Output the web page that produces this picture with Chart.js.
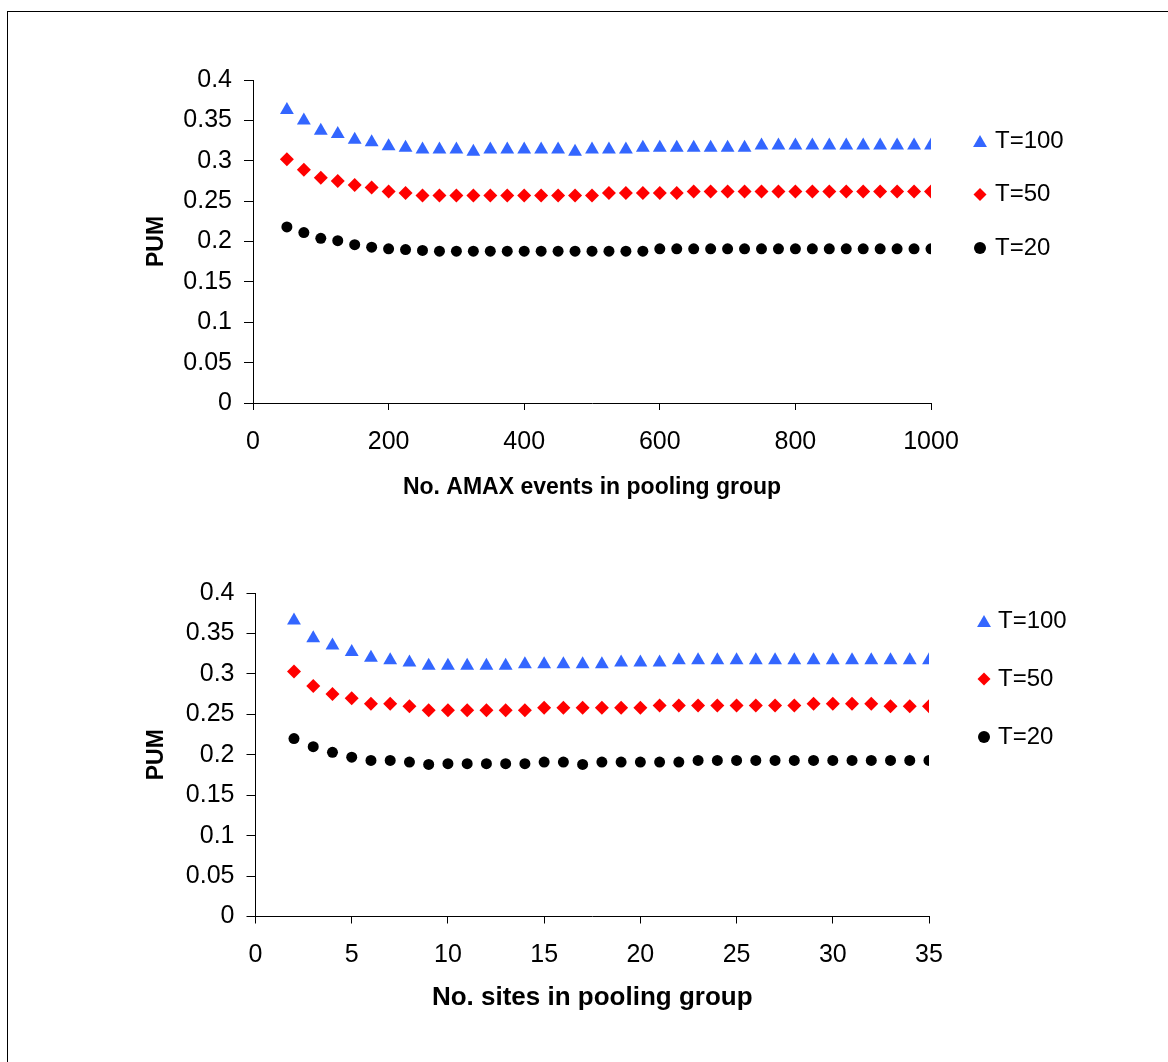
<!DOCTYPE html>
<html>
<head>
<meta charset="utf-8">
<title>PUM against pooling group size</title>
<script src="https://cdn.jsdelivr.net/npm/chart.js@4.4.1/dist/chart.umd.min.js"></script>
<style>
  body { margin: 0; background: #fff; overflow: hidden; }
  .frame { position: absolute; left: 7px; top: 11px; width: 1170px; height: 1060px; border-top: 1px solid #000; border-left: 1px solid #000; }
  canvas { position: absolute; left: 0; }
  #topChart { top: 0; }
  #bottomChart { top: 530px; }
</style>
</head>
<body>
<div class="frame"></div>
<canvas id="topChart" width="1168" height="530"></canvas>
<canvas id="bottomChart" width="1168" height="532"></canvas>
<script>
  // x values: size of the pooling group
  const amaxEvents = [50, 75, 100, 125, 150, 175, 200, 225, 250, 275, 300, 325, 350, 375, 400, 425, 450, 475, 500, 525,
    550, 575, 600, 625, 650, 675, 700, 725, 750, 775, 800, 825, 850, 875, 900, 925, 950, 975, 1000];
  const sitesInGroup = [2, 3, 4, 5, 6, 7, 8, 9, 10, 11, 12, 13, 14, 15, 16, 17, 18, 19, 20, 21,
    22, 23, 24, 25, 26, 27, 28, 29, 30, 31, 32, 33, 34, 35];

  // PUM by number of AMAX events
  const amaxT100 = [0.363, 0.350, 0.337, 0.333, 0.326, 0.323, 0.318, 0.316, 0.314, 0.314,
    0.314, 0.311, 0.314, 0.314, 0.314, 0.314, 0.314, 0.311, 0.314, 0.314,
    0.314, 0.316, 0.316, 0.316, 0.316, 0.316, 0.316, 0.316, 0.319, 0.319,
    0.319, 0.319, 0.319, 0.319, 0.319, 0.319, 0.319, 0.319, 0.319];
  const amaxT50 = [0.302, 0.289, 0.279, 0.275, 0.270, 0.267, 0.262, 0.260, 0.257, 0.257,
    0.257, 0.257, 0.257, 0.257, 0.257, 0.257, 0.257, 0.257, 0.257, 0.260,
    0.260, 0.260, 0.260, 0.260, 0.262, 0.262, 0.262, 0.262, 0.262, 0.262,
    0.262, 0.262, 0.262, 0.262, 0.262, 0.262, 0.262, 0.262, 0.262];
  const amaxT20 = [0.218, 0.211, 0.204, 0.201, 0.196, 0.193, 0.191, 0.190, 0.189, 0.188,
    0.188, 0.188, 0.188, 0.188, 0.188, 0.188, 0.188, 0.188, 0.188, 0.188,
    0.188, 0.188, 0.191, 0.191, 0.191, 0.191, 0.191, 0.191, 0.191, 0.191,
    0.191, 0.191, 0.191, 0.191, 0.191, 0.191, 0.191, 0.191, 0.191];

  // PUM by number of sites
  const sitesT100 = [0.366, 0.344, 0.335, 0.327, 0.320, 0.317, 0.314, 0.310, 0.310, 0.310,
    0.310, 0.310, 0.312, 0.312, 0.312, 0.312, 0.312, 0.314, 0.314, 0.314,
    0.317, 0.317, 0.317, 0.317, 0.317, 0.317, 0.317, 0.317, 0.317, 0.317,
    0.317, 0.317, 0.317, 0.317];
  const sitesT50 = [0.303, 0.285, 0.275, 0.270, 0.263, 0.263, 0.260, 0.255, 0.255, 0.255,
    0.255, 0.255, 0.255, 0.258, 0.258, 0.258, 0.258, 0.258, 0.258, 0.261,
    0.261, 0.261, 0.261, 0.261, 0.261, 0.261, 0.261, 0.263, 0.263, 0.263,
    0.263, 0.260, 0.260, 0.260];
  const sitesT20 = [0.220, 0.210, 0.203, 0.197, 0.193, 0.193, 0.191, 0.188, 0.189, 0.189,
    0.189, 0.189, 0.189, 0.191, 0.191, 0.188, 0.191, 0.191, 0.191, 0.191,
    0.191, 0.193, 0.193, 0.193, 0.193, 0.193, 0.193, 0.193, 0.193, 0.193,
    0.193, 0.193, 0.193, 0.193];

  // Tick labels
  const pumTicks = [0, 0.05, 0.1, 0.15, 0.2, 0.25, 0.3, 0.35, 0.4];
  const amaxTicks = [0, 200, 400, 600, 800, 1000];
  const sitesTicks = [0, 5, 10, 15, 20, 25, 30, 35];

  const seriesNames = ['T=100', 'T=50', 'T=20'];

  Chart.defaults.font.family = "'Liberation Sans', Arial, sans-serif";
  Chart.defaults.color = '#000';

  // marker look for each return period
  const markers = [
    { pointStyle: 'triangle', color: '#3366ff', radius: 8, legendRadius: 8 },
    { pointStyle: 'rectRot', color: '#ff0000', radius: 7, legendRadius: 6.5 },
    { pointStyle: 'circle', color: '#000000', radius: 5.5, legendRadius: 6 }
  ];

  // Legend drawn to the right of the plot area
  const sideLegend = {
    id: 'sideLegend',
    afterDraw(chart, args, opts) {
      const { ctx, chartArea } = chart;
      ctx.save();
      ctx.font = "24px 'Liberation Sans', Arial, sans-serif";
      ctx.textBaseline = 'middle';
      chart.data.datasets.forEach((ds, i) => {
        const y = chartArea.top + opts.rows[i];
        ctx.fillStyle = ds.backgroundColor;
        Chart.helpers.drawPoint(ctx, {
          pointStyle: ds.pointStyle,
          radius: markers[i].legendRadius,
          rotation: 0,
          borderWidth: 0
        }, chartArea.right + opts.markerX, y + (ds.pointStyle === 'triangle' ? 2 : 0));
        ctx.fillStyle = '#000';
        ctx.fillText(ds.label, chartArea.right + opts.textX, y);
      });
      ctx.restore();
    }
  };

  function buildChart(canvasId, xs, series, xTicks, xMax, xTitle, box) {
    const datasets = series.map((ys, i) => ({
      label: seriesNames[i],
      data: xs.map((x, j) => ({ x: x, y: ys[j] })),
      pointStyle: markers[i].pointStyle,
      pointRadius: markers[i].radius,
      pointHoverRadius: markers[i].radius,
      pointBorderWidth: 0,
      backgroundColor: markers[i].color,
      borderColor: markers[i].color,
      showLine: false
    }));

    return new Chart(document.getElementById(canvasId), {
      type: 'scatter',
      data: { datasets: datasets },
      plugins: [sideLegend],
      options: {
        responsive: false,
        animation: false,
        layout: { padding: box.padding },
        plugins: {
          legend: { display: false },
          tooltip: { enabled: false },
          sideLegend: box.legend
        },
        scales: {
          x: {
            type: 'linear',
            min: 0,
            max: xMax,
            afterBuildTicks: scale => { scale.ticks = xTicks.map(v => ({ value: v })); },
            afterFit: scale => { scale.height = box.xHeight; },
            ticks: { font: { size: 25 }, padding: 17, maxRotation: 0, callback: v => String(v) },
            grid: { drawOnChartArea: false, drawTicks: true, tickLength: 7, color: '#000' },
            border: { display: true, color: '#000', width: 1 },
            title: {
              display: true,
              text: xTitle,
              font: { size: box.xTitleSize, weight: 'bold' },
              padding: { top: 0, bottom: box.xTitleGap }
            }
          },
          y: {
            min: 0,
            max: 0.4,
            afterBuildTicks: scale => { scale.ticks = pumTicks.map(v => ({ value: v })); },
            afterFit: scale => { scale.width = box.yWidth; },
            ticks: { font: { size: 25 }, padding: 12, callback: v => String(v) },
            grid: { drawOnChartArea: false, drawTicks: true, tickLength: 9, color: '#000' },
            border: { display: true, color: '#000', width: 1 },
            title: {
              display: true,
              text: 'PUM',
              font: { size: 23, weight: 'bold' },
              padding: { top: 143, bottom: 0 }
            }
          }
        }
      }
    });
  }

  // Top chart: AMAX events
  buildChart('topChart', amaxEvents, [amaxT100, amaxT50, amaxT20], amaxTicks, 1000,
    'No. AMAX events in pooling group', {
      padding: { top: 80, right: 237, bottom: 0, left: 0 },
      yWidth: 253,
      xHeight: 127,
      xTitleSize: 23,
      xTitleGap: 29,
      legend: { rows: [61, 114.5, 168], markerX: 49, textX: 64 }
    });

  // Bottom chart: sites
  buildChart('bottomChart', sitesInGroup, [sitesT100, sitesT50, sitesT20], sitesTicks, 35,
    'No. sites in pooling group', {
      padding: { top: 63, right: 239, bottom: 0, left: 0 },
      yWidth: 255.5,
      xHeight: 145.5,
      xTitleSize: 26,
      xTitleGap: 49,
      legend: { rows: [28, 86, 144], markerX: 55, textX: 69 }
    });
</script>
</body>
</html>
